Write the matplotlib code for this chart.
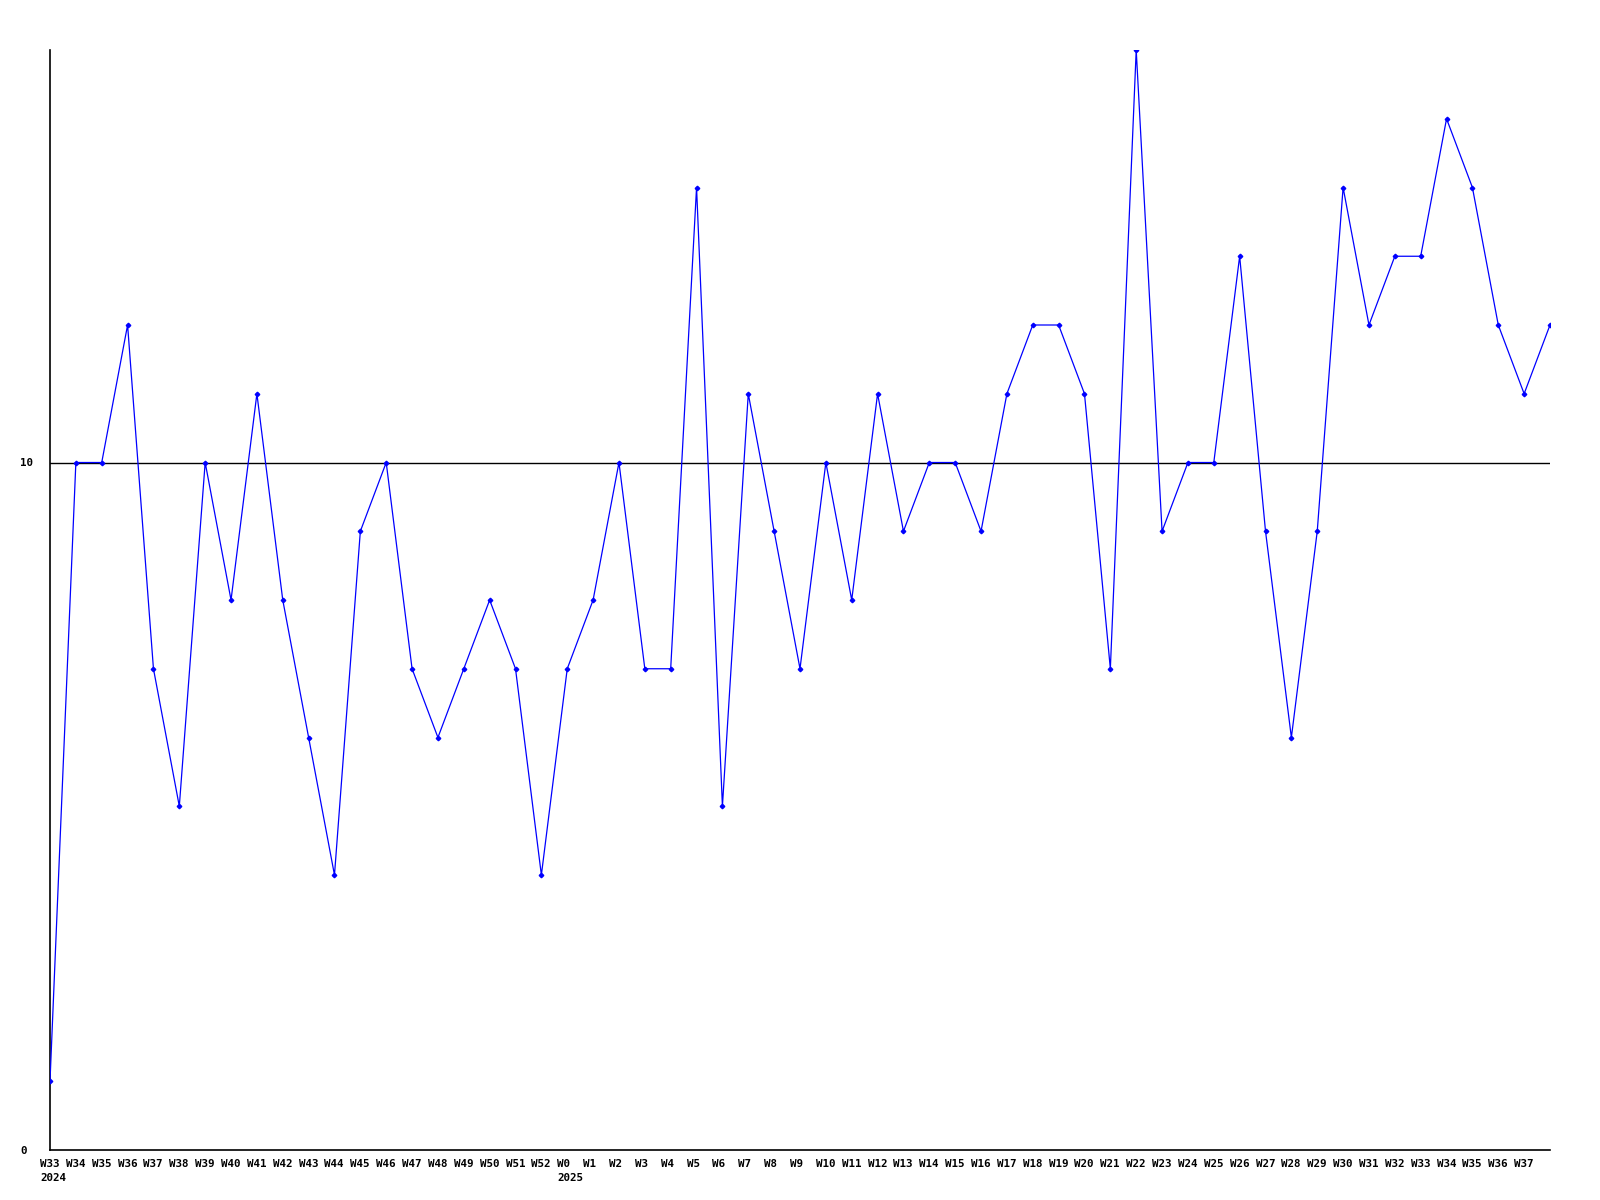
import matplotlib
matplotlib.use("Agg")
import matplotlib.pyplot as plt
import matplotlib.transforms as mtransforms

# weekly values, W33 2024 .. W37 2025 plus one trailing point
weeks = (["W%d" % w for w in range(33, 53)] +
         ["W%d" % w for w in range(0, 38)] + [""])
years = {0: "2024", 20: "2025"}
values = [1, 10, 10, 12, 7, 5, 10, 8, 11, 8, 6, 4, 9, 10, 7, 6, 7, 8, 7, 4,
          7, 8, 10, 7, 7, 14, 5, 11, 9, 7, 10, 8, 11, 9, 10, 10, 9, 11, 12, 12,
          11, 7, 16, 9, 10, 10, 13, 9, 6, 9, 14, 12, 13, 13, 15, 14, 12, 11, 12]

x = list(range(len(values)))

fig = plt.figure(figsize=(16, 12), dpi=100)
ax = fig.add_axes([50/1600, 50/1200, 1500/1600, 1100/1200])

ax.plot(x, values, color="#0000ff", lw=0.9, marker="D", ms=2.3, zorder=3)
ax.axhline(10, color="black", lw=1, zorder=2)

ax.set_xlim(0, len(values) - 1)
ax.set_ylim(0, 16)
for s in ["top", "right"]:
    ax.spines[s].set_visible(False)
for s in ["left", "bottom"]:
    ax.spines[s].set_linewidth(1.2)

font = dict(family="DejaVu Sans Mono", weight="bold", size=7.8)

ax.set_yticks([0, 10])
ax.set_yticklabels(["0", "10"], ha="left", **font)
ax.tick_params(axis="y", length=0, pad=21.6)

ax.set_xticks([])
off = mtransforms.ScaledTranslation(-10/100, 0, fig.dpi_scale_trans)
tr = mtransforms.blended_transform_factory(ax.transData, ax.transAxes) + off
for i, lab in enumerate(weeks):
    ax.text(i, -0.008, lab, transform=tr, ha="left", va="top", **font)
for i, yr in years.items():
    ax.text(i, -0.021, yr, transform=tr, ha="left", va="top", **font)

fig.savefig("out.png", dpi=100)
